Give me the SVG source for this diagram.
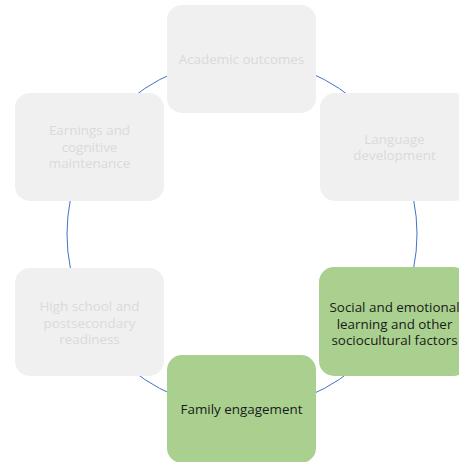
<svg xmlns="http://www.w3.org/2000/svg" width="459" height="462" viewBox="0 0 459 462">
<style>
.g rect{fill:#F0F0F0}
.g text{fill:#DADADA}
.a rect{fill:#A9D08E}
.a text{fill:#1A1A1A}
text{font-family:"Open Sans","Noto Sans",sans-serif;font-size:13.4px;text-anchor:middle}
</style>
<rect width="459" height="462" fill="#FFFFFF"/>
<g id="connectors">
<circle cx="242" cy="234" r="175" fill="none" stroke="#4472C4" stroke-width="1"/>
</g>
<g id="academic" class="g"><rect x="167" y="5" width="149" height="108" rx="15"/><text x="241.5" y="64">Academic outcomes</text></g>
<g id="language" class="g"><rect x="320" y="93" width="149" height="108" rx="15"/><text x="394.5" y="143.5">Language<tspan x="394.5" dy="16.5">development</tspan></text></g>
<g id="social" class="a"><rect x="319" y="267" width="149" height="109" rx="15"/><text x="394.5" y="312">Social and emotional<tspan x="394.5" dy="16.5">learning and other</tspan><tspan x="394.5" dy="16.5">sociocultural factors</tspan></text></g>
<g id="family" class="a"><rect x="167" y="355" width="149" height="108" rx="15"/><text x="241.5" y="414">Family engagement</text></g>
<g id="highschool" class="g"><rect x="15" y="268" width="149" height="108" rx="15"/><text x="89.5" y="311">High school and<tspan x="89.5" dy="16.5">postsecondary</tspan><tspan x="89.5" dy="16.5">readiness</tspan></text></g>
<g id="earnings" class="g"><rect x="15" y="93" width="149" height="108" rx="15"/><text x="89.5" y="135">Earnings and<tspan x="89.5" dy="16.5">cognitive</tspan><tspan x="89.5" dy="16.5">maintenance</tspan></text></g>
</svg>
